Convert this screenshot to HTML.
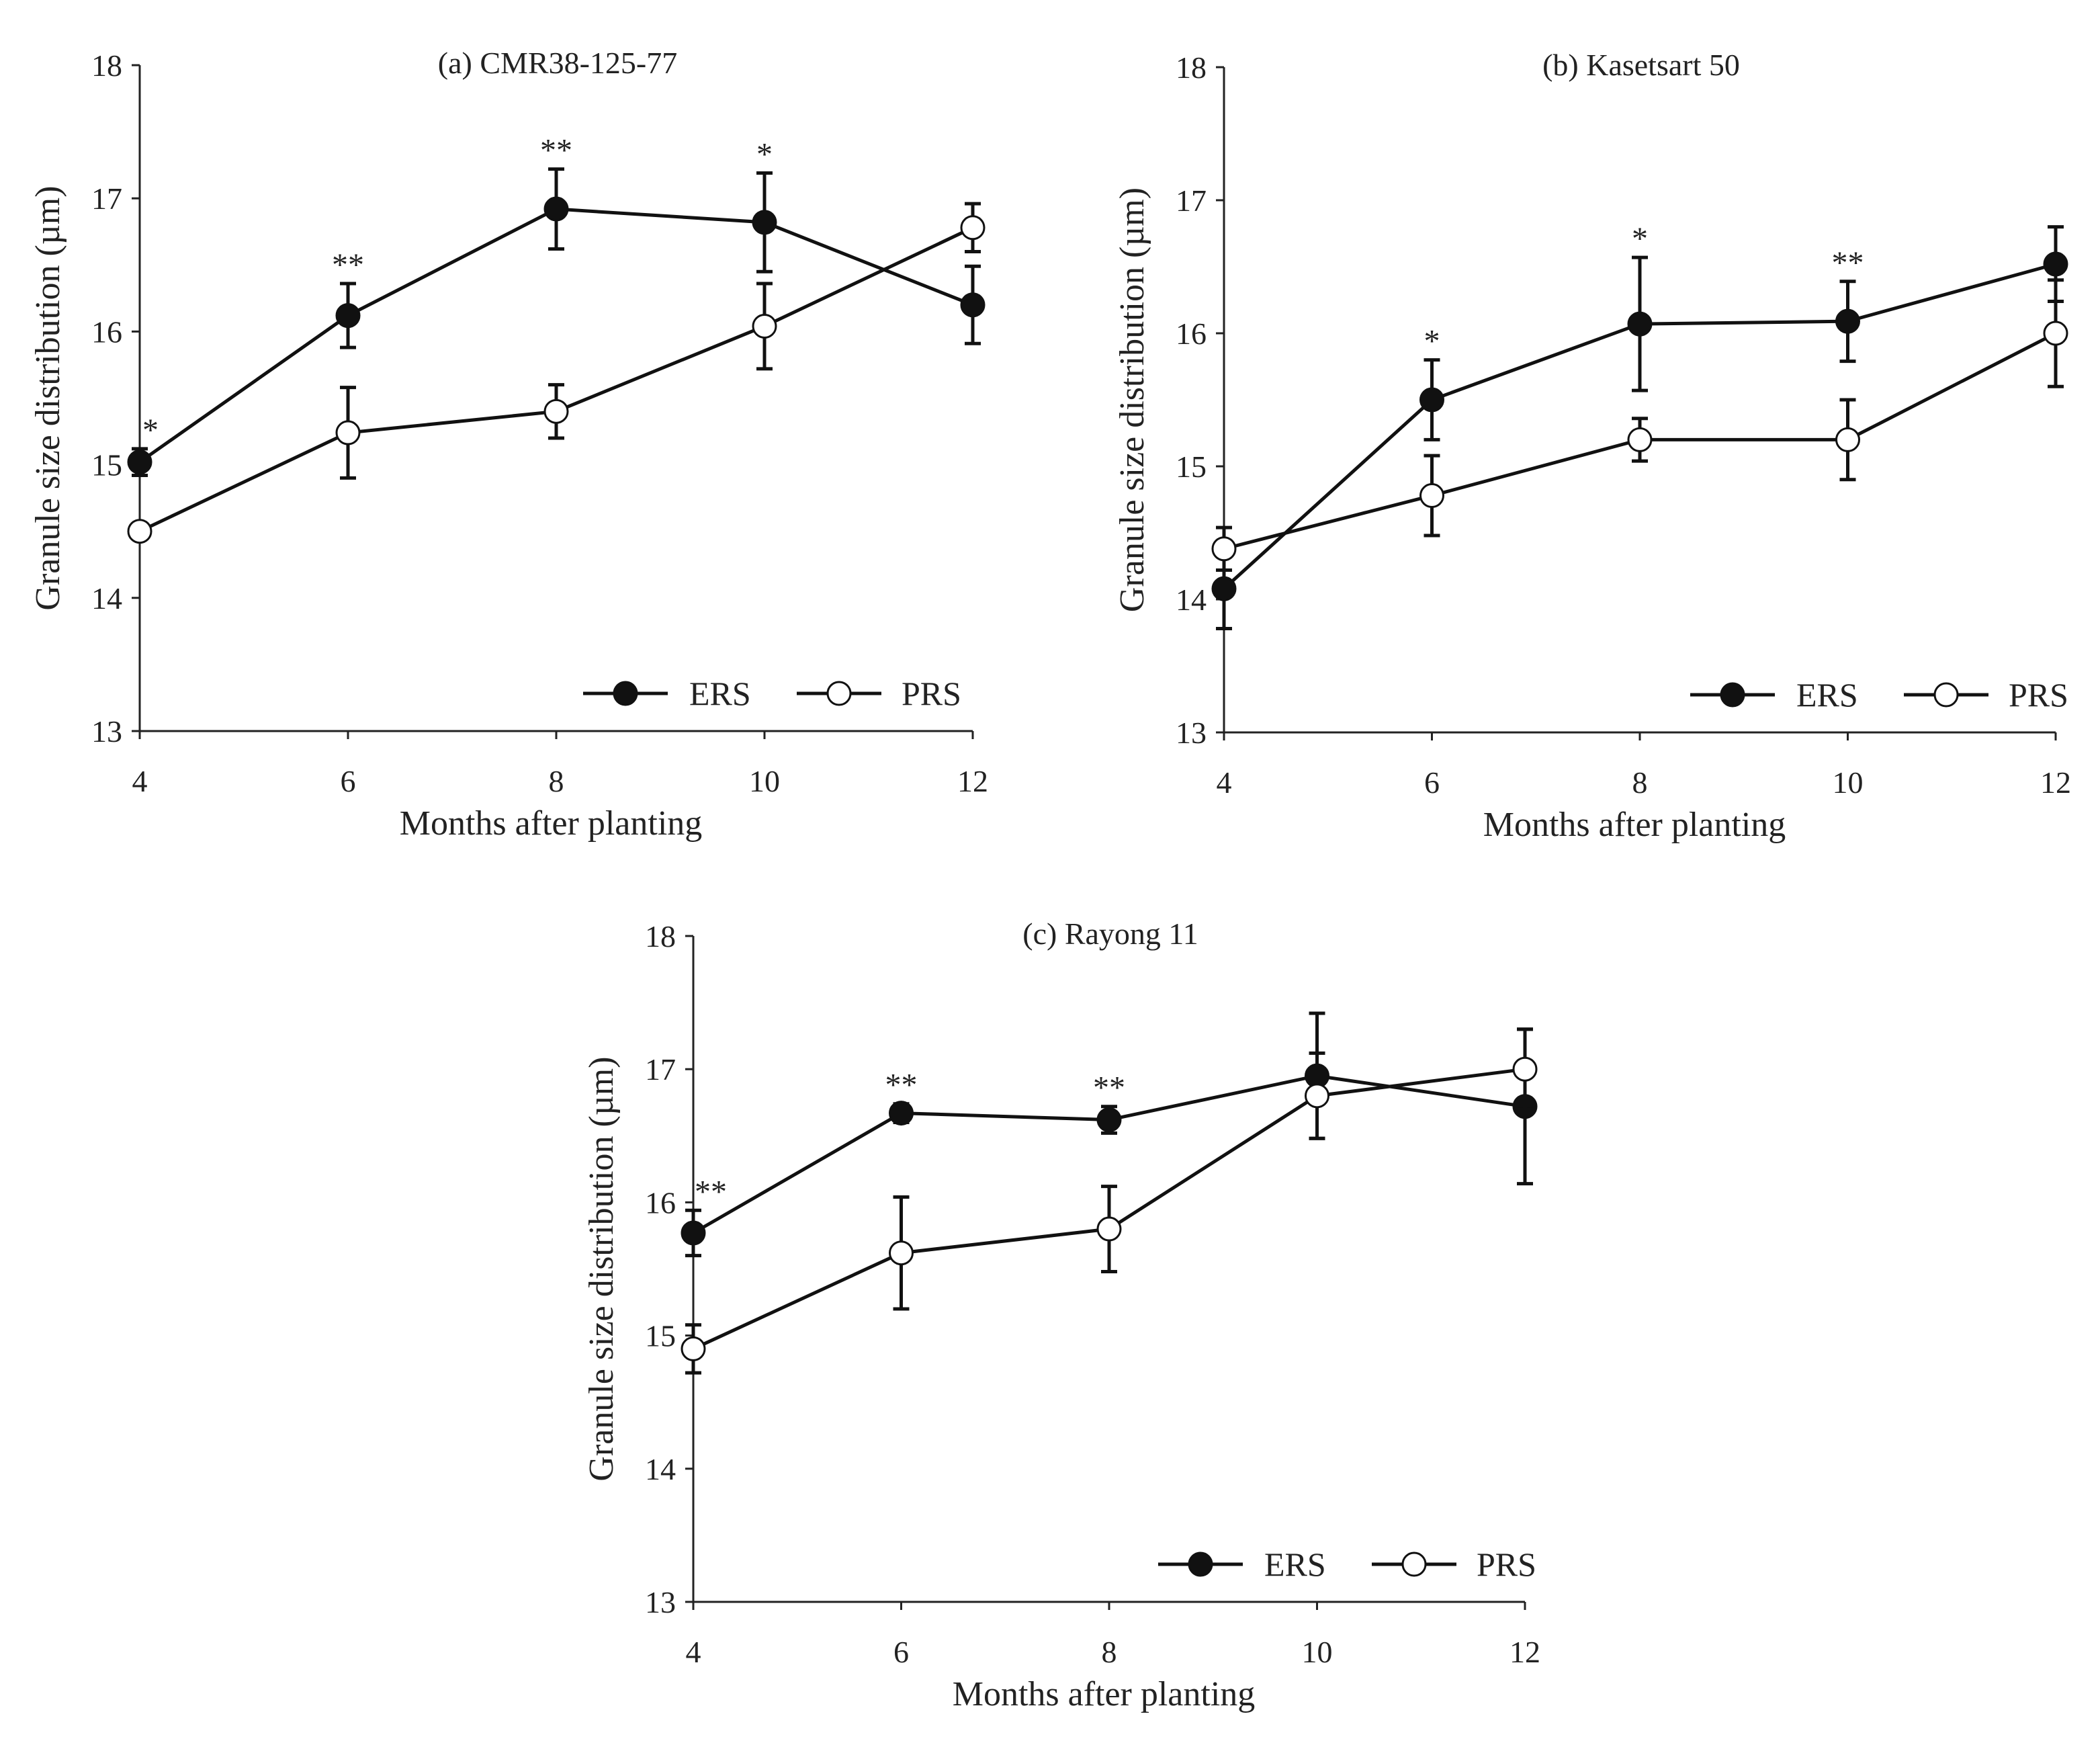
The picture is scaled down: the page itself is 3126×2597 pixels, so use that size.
<!DOCTYPE html>
<html><head><meta charset="utf-8"><style>
html,body{margin:0;padding:0;background:#fff;}
svg{display:block;}
text{font-family:"Liberation Serif",serif;fill:#222;}
</style></head><body>
<svg id="chart" width="3126" height="2597" viewBox="0 0 3126 2597" xmlns="http://www.w3.org/2000/svg"></svg>
<script>
const months = [4, 6, 8, 10, 12];
const yTicks = [13, 14, 15, 16, 17, 18];
const titles = ["(a) CMR38-125-77", "(b) Kasetsart 50", "(c) Rayong 11"];
const ersA = [15.02, 16.12, 16.92, 16.82, 16.2];
const ersAErr = [0.1, 0.24, 0.3, 0.37, 0.29];
const prsA = [14.5, 15.24, 15.4, 16.04, 16.78];
const prsAErr = [0.05, 0.34, 0.2, 0.32, 0.18];
const sigA = ["*", "**", "**", "*", ""];
const ersB = [14.08, 15.5, 16.07, 16.09, 16.52];
const ersBErr = [0.3, 0.3, 0.5, 0.3, 0.28];
const prsB = [14.38, 14.78, 15.2, 15.2, 16.0];
const prsBErr = [0.16, 0.3, 0.16, 0.3, 0.4];
const sigB = ["", "*", "*", "**", ""];
const ersC = [15.77, 16.67, 16.62, 16.95, 16.72];
const ersCErr = [0.17, 0.07, 0.1, 0.47, 0.58];
const prsC = [14.9, 15.62, 15.8, 16.8, 17.0];
const prsCErr = [0.18, 0.42, 0.32, 0.32, 0.3];
const sigC = ["**", "**", "**", "", ""];

const NS = "http://www.w3.org/2000/svg";
const svg = document.getElementById("chart");
function mk(tag, attrs, parent, txt) {
  const e = document.createElementNS(NS, tag);
  for (const k in attrs) e.setAttribute(k, attrs[k]);
  if (txt !== undefined) e.textContent = txt;
  (parent || svg).appendChild(e);
  return e;
}
const panels = [
  {x0: 208, x1: 1448, y0: 1088, y1: 97, title: titles[0], ers: ersA, ee: ersAErr, prs: prsA, pe: prsAErr, sig: sigA, leg: 868, name: "panel-a"},
  {x0: 1822, x1: 3060, y0: 1090, y1: 100, title: titles[1], ers: ersB, ee: ersBErr, prs: prsB, pe: prsBErr, sig: sigB, leg: 2516, name: "panel-b"},
  {x0: 1032, x1: 2270, y0: 2384, y1: 1393, title: titles[2], ers: ersC, ee: ersCErr, prs: prsC, pe: prsCErr, sig: sigC, leg: 1724, name: "panel-c"}
];
panels.forEach(p => {
  const g = mk("g", {});
  
  
  const X = m => p.x0 + (m - 4) / 8 * (p.x1 - p.x0);
  const Y = v => p.y0 - (v - 13) / 5 * (p.y0 - p.y1);
  const ax = {stroke: "#222", "stroke-width": 3, fill: "none"};
  const yl = mk("line", Object.assign({x1: p.x0, y1: p.y0, x2: p.x0, y2: p.y1}, ax), g);
  
  
  const xl = mk("line", Object.assign({x1: p.x0, y1: p.y0, x2: p.x1, y2: p.y0}, ax), g);
  
  
  yTicks.forEach(t => {
    mk("line", Object.assign({x1: p.x0 - 12, y1: Y(t), x2: p.x0, y2: Y(t)}, ax), g);
    const tl = mk("text", {x: p.x0 - 26, y: Y(t) + 16, "text-anchor": "end", "font-size": 46}, g, t);
    
    
  });
  months.forEach(m => {
    mk("line", Object.assign({x1: X(m), y1: p.y0, x2: X(m), y2: p.y0 + 12}, ax), g);
    const tl = mk("text", {x: X(m), y: p.y0 + 90, "text-anchor": "middle", "font-size": 46}, g, m);
    
    
  });
  const t = mk("text", {x: (p.x0 + p.x1) / 2 + 2, y: p.y1 + 12, "text-anchor": "middle", "font-size": 46}, g, p.title);
  
  
  const xt = mk("text", {x: (p.x0 + p.x1) / 2 - 8, y: p.y0 + 154, "text-anchor": "middle", "font-size": 52}, g, "Months after planting");
  
  
  const yc = (p.y0 + p.y1) / 2;
  const yt = mk("text", {x: p.x0 - 138, y: yc, "text-anchor": "middle", "font-size": 52, transform: `rotate(-90 ${p.x0 - 138} ${yc})`, dy: 18}, g, "Granule size distribution (µm)");
  
  
  [[p.ers, p.ee, "#111", "ers"], [p.prs, p.pe, "#fff", "prs"]].forEach(([vals, errs, fill, nm]) => {
    const pts = vals.map((v, i) => X(months[i]) + "," + Y(v)).join(" ");
    const pl = mk("polyline", {points: pts, fill: "none", stroke: "#111", "stroke-width": 5}, g);
    
    
    vals.forEach((v, i) => {
      const x = X(months[i]);
      const eb = mk("path", {d: `M${x},${Y(v - errs[i])}V${Y(v + errs[i])}M${x - 12},${Y(v + errs[i])}h24M${x - 12},${Y(v - errs[i])}h24`, stroke: "#111", "stroke-width": 5, fill: "none"}, g);
      
      
    });
    vals.forEach((v, i) => {
      const c = mk("circle", {cx: X(months[i]), cy: Y(v), r: 17, fill: fill, stroke: "#111", "stroke-width": 3}, g);
      
      
    });
  });
  p.sig.forEach((s, i) => {
    if (!s) return;
    const top = Y(p.ers[i] + p.ee[i]);
    const x = i === 0 ? X(months[i]) + 16 + (s.length - 1) * 10 : X(months[i]);
    const st = mk("text", {x: x, y: top - 12, "text-anchor": "middle", "font-size": 48}, g, s);
    
    
  });
  const ly = p.y0 - 56;
  const lg = mk("g", {}, g);
  
  
  mk("line", {x1: p.leg, y1: ly, x2: p.leg + 126, y2: ly, stroke: "#111", "stroke-width": 5}, lg);
  mk("circle", {cx: p.leg + 63, cy: ly, r: 17, fill: "#111", stroke: "#111", "stroke-width": 3}, lg);
  mk("text", {x: p.leg + 158, y: ly + 17, "font-size": 50}, lg, "ERS");
  mk("line", {x1: p.leg + 318, y1: ly, x2: p.leg + 444, y2: ly, stroke: "#111", "stroke-width": 5}, lg);
  mk("circle", {cx: p.leg + 381, cy: ly, r: 17, fill: "#fff", stroke: "#111", "stroke-width": 3}, lg);
  mk("text", {x: p.leg + 474, y: ly + 17, "font-size": 50}, lg, "PRS");
});
</script>
</body></html>
